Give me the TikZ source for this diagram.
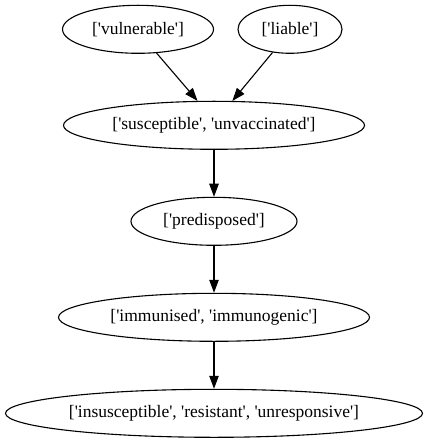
\documentclass[tikz,border=0pt]{standalone}
\usepackage{fontspec}
\setmainfont{Liberation Serif}[Ligatures=TeXOff]
\usetikzlibrary{shapes.geometric,arrows.meta}

\tikzset{
    termo/.style={ellipse, draw, line width=1.1pt, inner sep=0pt, minimum height=48pt,
                  font=\fontsize{17.5}{20}\selectfont,
                  execute at begin node={\hbox to 0pt\bgroup\hss},
                  execute at end node={\hss\egroup}},
    seta/.style={line width=1.1pt, -{Triangle[length=13pt,width=9.5pt]}}
}

\begin{document}
\begin{tikzpicture}[x=1pt,y=-1pt]
    \useasboundingbox (0,0) rectangle (428,443);

    % Primeira linha
    \node[termo, minimum width=151pt] (vul) at (138,29.3) {['vulnerable']};
    \node[termo, minimum width=104pt] (lia) at (290,29.3) {['liable']};

    % Cadeia central
    \node[termo, minimum width=301pt] (sus) at (214,125.3) {['susceptible', 'unvaccinated']};
    \node[termo, minimum width=166pt] (pre) at (214,221.3) {['predisposed']};
    \node[termo, minimum width=311pt] (imm) at (214,317.3) {['immunised', 'immunogenic']};
    \node[termo, minimum width=417pt] (ins) at (214,413.3) {['insusceptible', 'resistant', 'unresponsive']};

    % Arestas
    \draw[seta] (vul.-52) -- (sus.124);
    \draw[seta] (lia.233) -- (sus.53);
    \draw[seta] (sus) -- (pre);
    \draw[seta] (pre) -- (imm);
    \draw[seta] (imm) -- (ins);

\end{tikzpicture}
\end{document}
